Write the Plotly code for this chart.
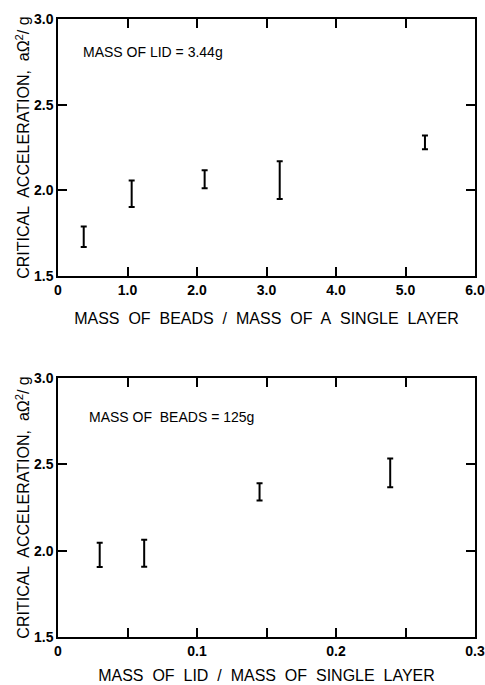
import plotly.graph_objects as go
from plotly.subplots import make_subplots

NB = "\u00a0"

# Top panel: mass of lid = 3.44 g
beads_ratio = [0.37, 1.06, 2.11, 3.19, 5.28]
beads_accel = [1.73, 1.98, 2.065, 2.06, 2.28]
beads_err = [0.06, 0.077, 0.052, 0.11, 0.04]

# Bottom panel: mass of beads = 125 g
lid_ratio = [0.03, 0.062, 0.145, 0.239]
lid_accel = [1.975, 1.985, 2.34, 2.45]
lid_err = [0.07, 0.078, 0.05, 0.083]

y_ticks = [1.5, 2.0, 2.5, 3.0]
y_ticktext = ["1.5", "2.0", "2.5", "3.0"]
top_xticks = [0, 1, 2, 3, 4, 5, 6]
top_xticktext = ["0", "1.0", "2.0", "3.0", "4.0", "5.0", "6.0"]
bot_xticks = [0, 0.1, 0.2, 0.3]
bot_xticktext = ["0", "0.1", "0.2", "0.3"]

FONT = "Liberation Sans, Arial, Helvetica, sans-serif"

fig = make_subplots(rows=2, cols=1)

err_style = dict(type="data", visible=True, thickness=2, width=3, color="black")

fig.add_trace(go.Scatter(
    x=beads_ratio, y=beads_accel, mode="markers",
    marker=dict(size=1, color="rgba(0,0,0,0)"),
    error_y=dict(array=beads_err, **err_style), showlegend=False,
), row=1, col=1)

fig.add_trace(go.Scatter(
    x=lid_ratio, y=lid_accel, mode="markers",
    marker=dict(size=1, color="rgba(0,0,0,0)"),
    error_y=dict(array=lid_err, **err_style), showlegend=False,
), row=2, col=1)

ytitle = ("CRITICAL" + NB + " " + "ACCELERATION," + NB + " " + "aΩ<sup>2</sup>/ g")

axis_common = dict(
    showline=True, linecolor="black", linewidth=1.5, mirror="ticks",
    ticks="inside", ticklen=9, tickwidth=1.5, tickcolor="black",
    showgrid=False, zeroline=False, automargin=False,
    tickfont=dict(family=FONT, size=14, color="black", weight="bold"),
)

title_font = dict(family=FONT, size=16, color="black")

fig.update_layout(
    width=485, height=685,
    margin=dict(l=58, r=10, t=19, b=48),
    paper_bgcolor="white", plot_bgcolor="white",
    font=dict(family=FONT, color="black"),
    xaxis=dict(domain=[0, 1], range=[0, 6], tickmode="array",
               tickvals=top_xticks, ticktext=top_xticktext,
               title=dict(text="MASS" + NB + " OF" + NB + " BEADS" + NB + " /" + NB + " MASS" + NB + " OF" + NB + " A" + NB + " SINGLE" + NB + " LAYER",
                          font=title_font, standoff=16),
               **axis_common),
    yaxis=dict(domain=[0.584, 1], range=[1.5, 3.0], tickmode="array",
               tickvals=y_ticks, ticktext=y_ticktext,
               title=dict(text=ytitle, font=title_font, standoff=0),
               **axis_common),
    xaxis2=dict(domain=[0, 1], range=[0, 0.3], tickmode="array",
                tickvals=bot_xticks, ticktext=bot_xticktext,
                minor=dict(dtick=0.05, tick0=0, ticks="inside", ticklen=9,
                           tickwidth=1.5, tickcolor="black", showgrid=False),
                title=dict(text="MASS" + NB + " OF" + NB + " LID" + NB + " /" + NB + " MASS" + NB + " OF" + NB + " SINGLE" + NB + " LAYER",
                           font=title_font, standoff=12),
                **axis_common),
    yaxis2=dict(domain=[0, 0.4193], range=[1.5, 3.0], tickmode="array",
                tickvals=y_ticks, ticktext=y_ticktext,
                title=dict(text=ytitle, font=title_font, standoff=0),
                **axis_common),
    annotations=[
        dict(text="MASS OF LID = 3.44g", xref="x domain", yref="y domain",
             x=0.056, y=0.872, xanchor="left", yanchor="middle", showarrow=False,
             font=dict(family=FONT, size=14, color="black")),
        dict(text="MASS OF" + NB + " BEADS = 125g", xref="x2 domain", yref="y2 domain",
             x=0.069, y=0.849, xanchor="left", yanchor="middle", showarrow=False,
             font=dict(family=FONT, size=14, color="black")),
    ],
)

fig.write_html("out.html")
